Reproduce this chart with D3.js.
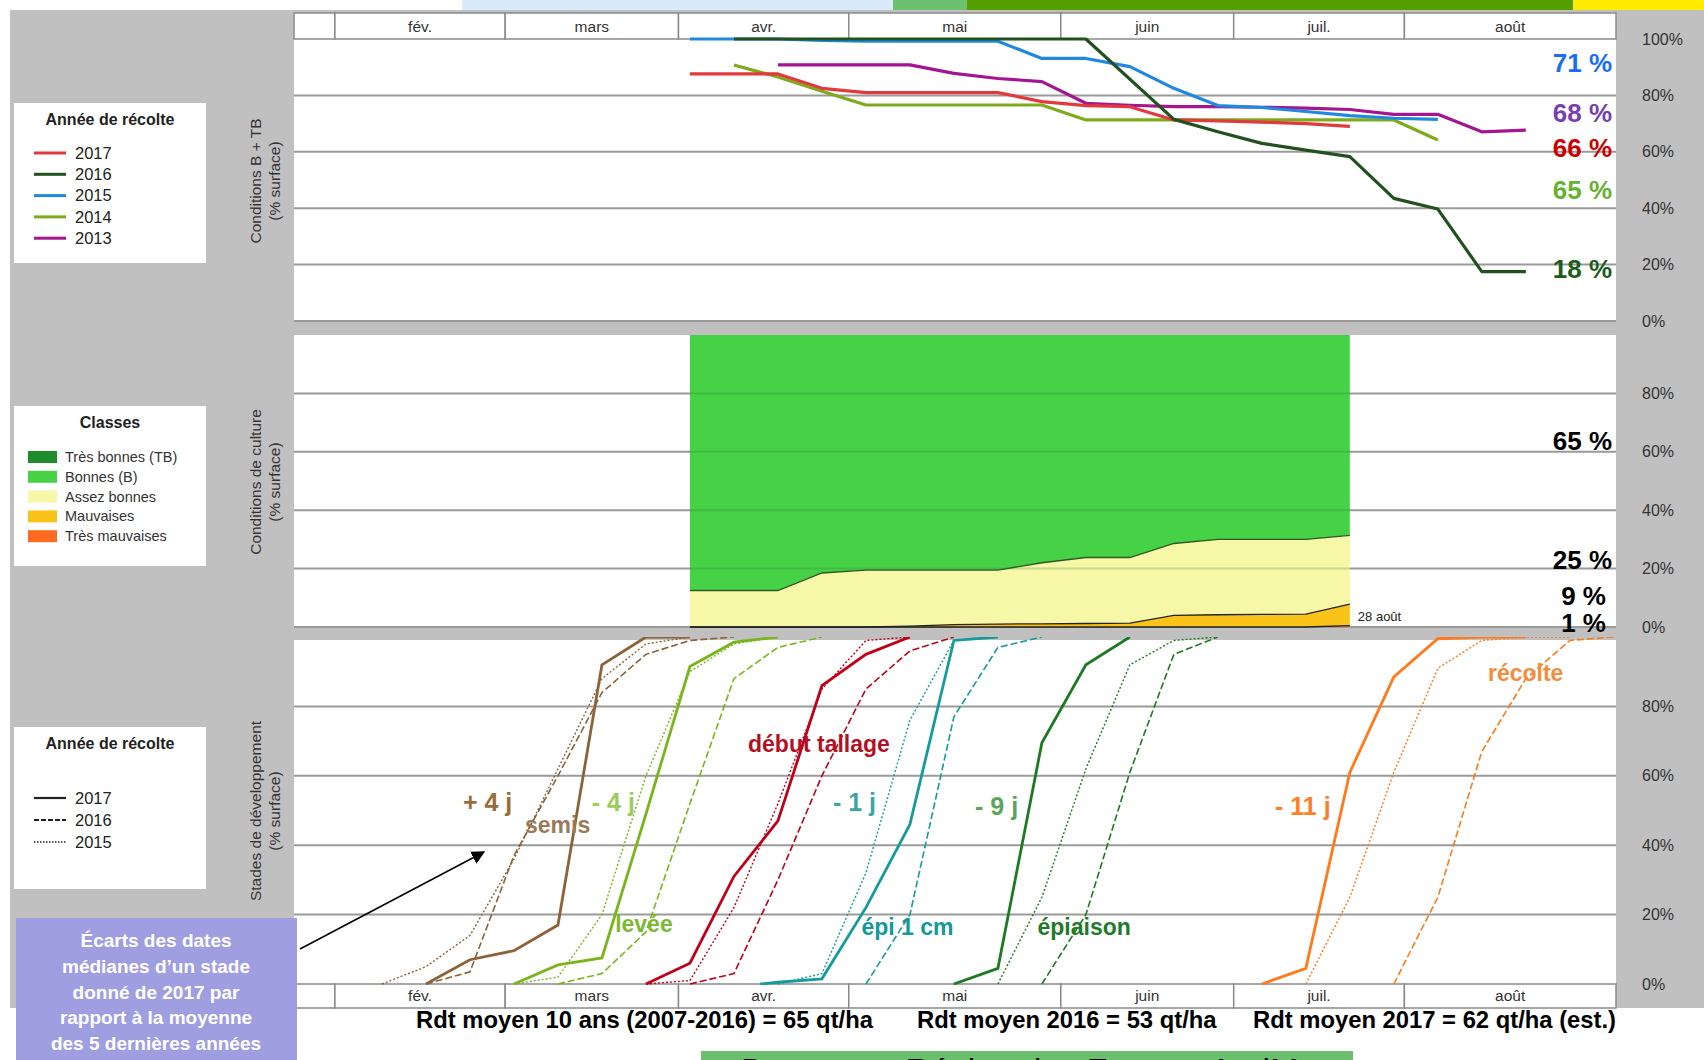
<!DOCTYPE html>
<html>
  <head>
    <meta charset="utf-8">
    <title>Conditions de culture et stades</title>
    <script src="https://d3js.org/d3.v7.min.js"></script>
    <style>
      body { margin: 0; background: #fff; }
      svg { display: block; font-family: "Liberation Sans", Arial, sans-serif; }
    </style>
  </head>

  <body>
    <svg id="canvas" width="1704" height="1060"></svg>
    <script>
      // x axis: weeks of observation (0 = first 2017 survey)
      const months = ["", "fév.", "mars", "avr.", "mai", "juin", "juil.", "août"];
      const monthEdges = [-9, -8.07, -4.2, -0.26, 3.61, 8.43, 12.36, 16.24, 21.05];
      const pctTicks = [0, 20, 40, 60, 80, 100];

      // panel 1 : conditions B + TB (% surface), [week, value]
      const bt2017 = [[0, 87.6], [1, 87.6], [2, 87.6], [3, 82.5], [4, 81], [5, 81], [6, 81], [7, 81], [8, 77.8], [9, 76.4], [10, 76], [11, 71.3], [12, 71], [13, 70.5], [14, 70], [15, 69]];
      const bt2016 = [[1, 100], [2, 100], [3, 100], [4, 100], [5, 100], [6, 100], [7, 100], [8, 100], [9, 100], [11, 71.5], [12, 67.1], [13, 63], [14, 60.6], [15, 58.3], [16, 43.5], [17, 39.7], [18, 17.5], [19, 17.5]];
      const bt2015 = [[0, 100], [1, 100], [2, 100], [3, 99.5], [4, 99.2], [5, 99.2], [6, 99.2], [7, 99.2], [8, 93.1], [9, 93.1], [10, 90.2], [11, 82.5], [12, 76.4], [13, 75.7], [14, 74.3], [15, 72.8], [16, 71.9], [17, 71.5]];
      const bt2014 = [[1, 90.8], [2, 86.5], [3, 81.5], [4, 76.6], [5, 76.6], [6, 76.6], [7, 76.6], [8, 76.6], [9, 71.3], [10, 71.3], [11, 71.3], [12, 71.3], [13, 71.3], [14, 71.3], [15, 71.3], [16, 71.3], [17, 64.2]];
      const bt2013 = [[2, 90.8], [3, 90.8], [4, 90.8], [5, 90.8], [6, 87.8], [7, 86], [8, 84.9], [9, 77.2], [10, 76.5], [11, 76], [12, 76], [13, 75.8], [14, 75.5], [15, 75], [16, 73.3], [17, 73.3], [18, 67.1], [19, 67.7]];
      const btLabels = ["71 %", "68 %", "66 %", "65 %", "18 %"];

      // panel 2 : conditions de culture 2017 (% surface)
      const condWeeks = [0, 1, 2, 3, 4, 5, 6, 7, 8, 9, 10, 11, 12, 13, 14, 15];
      const tresBonnes = [0, 0, 0, 0, 0, 0, 0, 0, 0, 0, 0, 0, 0, 0, 0, 0];
      const bonnes = [87.5, 87.5, 87.5, 81.5, 80.5, 80.5, 80.5, 80.5, 78, 76.2, 76.2, 71.4, 70, 70, 70, 68.6];
      const assezBonnes = [12.5, 12.5, 12.5, 18.5, 19.5, 19.2, 18.7, 18.5, 20.9, 22.6, 22.5, 24.6, 25.8, 25.7, 25.6, 23.6];
      const mauvaises = [0, 0, 0, 0, 0, 0.3, 0.8, 1, 1.1, 1.2, 1.3, 4, 4.2, 4.3, 4.4, 7.3];
      const tresMauvaises = [0, 0, 0, 0, 0, 0, 0, 0, 0, 0, 0, 0, 0, 0, 0, 0.5];
      const classNames = ["Très bonnes (TB)", "Bonnes (B)", "Assez bonnes", "Mauvaises", "Très mauvaises"];
      const condLabels = ["65 %", "25 %", "9 %", "1 %"];

      // panel 3 : stades de développement (% surface), [week, value]
      const semis2017 = [[-6, 0], [-5, 7], [-4, 9.6], [-3, 17], [-2, 92], [-1, 100], [0, 100]];
      const semis2016 = [[-6, 0], [-5, 3.5], [-4, 37], [-3, 60], [-2, 84], [-1, 95], [0, 99], [1, 100]];
      const semis2015 = [[-7, 0], [-6, 5], [-5, 14], [-4, 36], [-3, 62], [-2, 88], [-1, 98], [0, 100]];
      const levee2017 = [[-4, 0], [-3, 5.5], [-2, 7.5], [-1, 49], [0, 91.5], [1, 98.5], [2, 100]];
      const levee2016 = [[-3, 0], [-2, 3], [-1, 15], [0, 52], [1, 88], [2, 97], [3, 100]];
      const levee2015 = [[-4, 0], [-3, 2], [-2, 20], [-1, 60], [0, 90], [1, 98], [2, 100]];
      const tallage2017 = [[-1, 0], [0, 6], [1, 31], [2, 47], [3, 86], [4, 95], [5, 100]];
      const tallage2016 = [[0, 0], [1, 3], [2, 30], [3, 60], [4, 85], [5, 96], [6, 100]];
      const tallage2015 = [[-1, 0], [0, 1], [1, 22], [2, 52], [3, 85], [4, 99], [5, 100]];
      const epi2017 = [[1.6, 0], [2, 0.5], [3, 1.5], [4, 22], [5, 46], [6, 99], [7, 100]];
      const epi2016 = [[4, 0], [5, 20], [6, 77], [7, 97], [8, 100]];
      const epi2015 = [[2, 0], [3, 3], [4, 32], [5, 76], [6, 99], [7, 100]];
      const epiaison2017 = [[6, 0], [7, 4.5], [8, 69.5], [9, 92], [10, 100]];
      const epiaison2016 = [[8, 0], [9, 20], [10, 61], [11, 95], [12, 100]];
      const epiaison2015 = [[7, 0], [8, 25], [9, 62], [10, 92], [11, 99], [12, 100]];
      const recolte2017 = [[13, 0], [14, 4.5], [15, 61], [16, 88.5], [17, 99.5], [18, 100], [19, 100]];
      const recolte2016 = [[16, 0], [17, 25], [18, 67], [19, 88], [20, 99], [21, 100]];
      const recolte2015 = [[14, 0], [15, 25], [16, 61], [17, 91], [18, 99], [19, 100], [20, 100]];
      const stageNames = ["semis", "levée", "début tallage", "épi 1 cm", "épiaison", "récolte"];
      const stageGaps = ["+ 4 j", "- 4 j", "", "- 1 j", "- 9 j", "- 11 j"];

      const yields = ["Rdt moyen 10 ans (2007-2016) = 65 qt/ha", "Rdt moyen 2016 = 53 qt/ha", "Rdt moyen 2017 = 62 qt/ha (est.)"];
      const noteLines = ["Écarts des dates", "médianes d’un stade", "donné de 2017 par", "rapport à la moyenne", "des 5 dernières années"];

      // scales
      const left = 294, right = 1616;
      const x = d3.scaleLinear().domain([monthEdges[0], monthEdges[8]]).range([left, right]);
      const yTop = d3.scaleLinear().domain([0, 100]).range([321, 39]);
      const yMid = d3.scaleLinear().domain([0, 100]).range([627, 335]);
      const yBot = d3.scaleLinear().domain([0, 100]).range([984, 637]);

      const canvas = d3.select("#canvas");

      canvas.append("defs").append("marker")
          .attr("id", "arrow")
          .attr("viewBox", "0 0 10 10")
          .attr("refX", 9).attr("refY", 5)
          .attr("markerWidth", 9).attr("markerHeight", 9)
          .attr("orient", "auto")
        .append("path")
          .attr("d", "M0,0 L10,5 L0,10 z")
          .attr("fill", "#000");

      // banner strip at the very top
      const strip = [[462, 893, "#dbeaf9"], [893, 967, "#6cc070"], [967, 1573, "#55a000"], [1573, 1704, "#ffea00"]];
      canvas.selectAll(".strip")
          .data(strip)
        .enter().append("rect")
          .attr("x", d => d[0]).attr("y", 0)
          .attr("width", d => d[1] - d[0]).attr("height", 10)
          .attr("fill", d => d[2]);

      canvas.append("rect")
          .attr("x", 10).attr("y", 10)
          .attr("width", 1694).attr("height", 998)
          .attr("fill", "#c0c0c0");

      // panel backgrounds
      [[39, 321], [335, 627], [640, 984]].forEach(function(p) {
        canvas.append("rect")
            .attr("x", left).attr("y", p[0])
            .attr("width", right - left).attr("height", p[1] - p[0])
            .attr("fill", "#fff");
      });

      function grid(scale, ticks) {
        canvas.append("g")
          .selectAll("line")
            .data(ticks)
          .enter().append("line")
            .attr("x1", left).attr("x2", right)
            .attr("y1", d => scale(d)).attr("y2", d => scale(d))
            .attr("stroke", "#9a9a9a")
            .attr("stroke-width", 2);
      }

      function rightAxis(scale, ticks) {
        canvas.append("g")
          .selectAll("text")
            .data(ticks)
          .enter().append("text")
            .attr("x", 1642)
            .attr("y", d => scale(d))
            .attr("dy", "0.35em")
            .attr("font-size", 16)
            .attr("fill", "#333")
            .text(d => d + "%");
      }

      function monthHeader(y0, y1) {
        let g = canvas.append("g");
        g.selectAll("rect")
            .data(months)
          .enter().append("rect")
            .attr("x", (d, i) => x(monthEdges[i]))
            .attr("y", y0)
            .attr("width", (d, i) => x(monthEdges[i + 1]) - x(monthEdges[i]))
            .attr("height", y1 - y0)
            .attr("fill", "#fff")
            .attr("stroke", "#8a8a8a")
            .attr("stroke-width", 1.5);
        g.selectAll("text")
            .data(months)
          .enter().append("text")
            .attr("x", (d, i) => (x(monthEdges[i]) + x(monthEdges[i + 1])) / 2)
            .attr("y", y1 - 7)
            .attr("text-anchor", "middle")
            .attr("font-size", 15.5)
            .attr("fill", "#333")
            .text(d => d);
      }

      function axisTitle(lines, cy) {
        let t = canvas.append("text")
            .attr("transform", "translate(261," + cy + ") rotate(-90)")
            .attr("text-anchor", "middle")
            .attr("font-size", 15.5)
            .attr("fill", "#333");
        lines.forEach(function(l, i) {
          t.append("tspan").attr("x", 0).attr("dy", i == 0 ? 0 : 19).text(l);
        });
      }

      // ---- panel 1
      grid(yTop, [0, 20, 40, 60, 80]);
      rightAxis(yTop, pctTicks);
      monthHeader(13, 39);
      axisTitle(["Conditions B + TB", "(% surface)"], 181);

      const topSeries = [
        {data: bt2013, color: "#a3168f"},
        {data: bt2014, color: "#7dab1c"},
        {data: bt2017, color: "#e0393e"},
        {data: bt2015, color: "#1f88e0"},
        {data: bt2016, color: "#22501f"}
      ];
      const lineTop = d3.line().x(d => x(d[0])).y(d => yTop(d[1]));
      canvas.append("g")
        .selectAll("path")
          .data(topSeries)
        .enter().append("path")
          .attr("d", d => lineTop(d.data))
          .attr("fill", "none")
          .attr("stroke", d => d.color)
          .attr("stroke-width", 3.2)
          .attr("stroke-linejoin", "round");

      const btLabelPos = [88.3, 70.6, 58.2, 43.3, 15.2];
      const btLabelCol = ["#1a6ef5", "#7a3fae", "#cc0000", "#66b032", "#1e5c1e"];
      canvas.append("g")
        .selectAll("text")
          .data(btLabels)
        .enter().append("text")
          .attr("x", 1612)
          .attr("y", (d, i) => yTop(btLabelPos[i]))
          .attr("text-anchor", "end")
          .attr("font-size", 26)
          .attr("font-weight", "bold")
          .attr("fill", (d, i) => btLabelCol[i])
          .text(d => d);

      // ---- panel 2
      grid(yMid, [0, 20, 40, 60, 80]);
      rightAxis(yMid, [0, 20, 40, 60, 80]);
      axisTitle(["Conditions de culture", "(% surface)"], 482);

      const keys = ["TM", "M", "AB", "B", "TB"];
      const classColor = {TB: "#1f8c2a", B: "#47d147", AB: "#f7f7a8", M: "#f9c31a", TM: "#ff6a1e"};
      const rows = condWeeks.map((w, i) => ({week: w, TB: tresBonnes[i], B: bonnes[i], AB: assezBonnes[i], M: mauvaises[i], TM: tresMauvaises[i]}));
      const stacked = d3.stack().keys(keys)(rows);
      const area = d3.area()
        .x(d => x(d.data.week))
        .y0(d => yMid(d[0]))
        .y1(d => yMid(d[1]));
      canvas.append("g")
        .selectAll("path")
          .data(stacked)
        .enter().append("path")
          .attr("d", area)
          .attr("fill", d => classColor[d.key]);
      canvas.append("g")
        .selectAll("path")
          .data(stacked.filter(d => d.key != "B" && d.key != "TB"))
        .enter().append("path")
          .attr("d", d3.line().x(d => x(d.data.week)).y(d => yMid(d[1])))
          .attr("fill", "none")
          .attr("stroke", d => d.key == "AB" ? "#2b5a22" : "#222")
          .attr("stroke-width", 1.3);
      // grid seen through the areas
      canvas.append("g")
        .selectAll("line")
          .data([20, 40, 60, 80])
        .enter().append("line")
          .attr("x1", x(condWeeks[0])).attr("x2", x(condWeeks[condWeeks.length - 1]))
          .attr("y1", d => yMid(d)).attr("y2", d => yMid(d))
          .attr("stroke", "#2f7a2f")
          .attr("stroke-opacity", 0.25)
          .attr("stroke-width", 2);

      canvas.append("text")
          .attr("x", x(condWeeks[condWeeks.length - 1]) + 8)
          .attr("y", 621)
          .attr("font-size", 13)
          .attr("fill", "#222")
          .text("28 août");

      const condLabelPos = [[1612, 60.5], [1612, 19.7], [1606, 7.5], [1606, -1.7]];
      canvas.append("g")
        .selectAll("text")
          .data(condLabels)
        .enter().append("text")
          .attr("x", (d, i) => condLabelPos[i][0])
          .attr("y", (d, i) => yMid(condLabelPos[i][1]))
          .attr("text-anchor", "end")
          .attr("font-size", 26)
          .attr("font-weight", "bold")
          .attr("fill", "#000")
          .text(d => d);

      // ---- panel 3
      grid(yBot, [20, 40, 60, 80]);
      rightAxis(yBot, [0, 20, 40, 60, 80]);
      monthHeader(984, 1008);
      axisTitle(["Stades de développement", "(% surface)"], 811);

      canvas.append("clipPath").attr("id", "clipBot")
        .append("rect")
          .attr("x", left).attr("y", 637)
          .attr("width", right - left).attr("height", 348);

      const stages = [
        {color: "#8c6239", y17: semis2017, y16: semis2016, y15: semis2015},
        {color: "#7ab51d", y17: levee2017, y16: levee2016, y15: levee2015},
        {color: "#c00018", y17: tallage2017, y16: tallage2016, y15: tallage2015},
        {color: "#169b9b", y17: epi2017, y16: epi2016, y15: epi2015},
        {color: "#1d7a22", y17: epiaison2017, y16: epiaison2016, y15: epiaison2015},
        {color: "#ff7a1a", y17: recolte2017, y16: recolte2016, y15: recolte2015}
      ];
      const yearStyle = [
        {key: "y15", width: 1.4, dash: "2,2"},
        {key: "y16", width: 1.6, dash: "7,3"},
        {key: "y17", width: 2.8, dash: null}
      ];
      const lineBot = d3.line().x(d => x(d[0])).y(d => yBot(d[1]));
      const curves = canvas.append("g").attr("clip-path", "url(#clipBot)");
      yearStyle.forEach(function(s) {
        curves.append("g")
          .selectAll("path")
            .data(stages)
          .enter().append("path")
            .attr("d", d => lineBot(d[s.key]))
            .attr("fill", "none")
            .attr("stroke", d => d.color)
            .attr("stroke-width", s.width)
            .attr("stroke-dasharray", s.dash);
      });

      // stage names and median gaps
      const nameCol = ["#9a7a5a", "#7db833", "#b30f25", "#14999a", "#1f7a2a", "#f58b3c"];
      const namePos = [[-3.75, 43.5], [-1.7, 15], [1.32, 66.9], [3.9, 14.1], [7.9, 14.1], [18.14, 87.3]];
      const gapCol = ["#9a6c3c", "#9ccc5a", "", "#3da5a5", "#5aa55a", "#ff7f27"];
      const gapPos = [[-5.16, 49.9], [-2.23, 49.9], [0, 0], [3.25, 49.9], [6.48, 48.7], [13.3, 48.7]];
      canvas.append("g")
        .selectAll("text")
          .data(stageNames)
        .enter().append("text")
          .attr("x", (d, i) => x(namePos[i][0]))
          .attr("y", (d, i) => yBot(namePos[i][1]))
          .attr("font-size", 23)
          .attr("font-weight", "bold")
          .attr("fill", (d, i) => nameCol[i])
          .text(d => d);
      canvas.append("g")
        .selectAll("text")
          .data(stageGaps)
        .enter().append("text")
          .attr("x", (d, i) => x(gapPos[i][0]))
          .attr("y", (d, i) => yBot(gapPos[i][1]))
          .attr("font-size", 25)
          .attr("font-weight", "bold")
          .attr("fill", (d, i) => gapCol[i])
          .text(d => d);

      // ---- legends
      function legendBox(y0, y1, title) {
        canvas.append("rect")
            .attr("x", 14).attr("y", y0)
            .attr("width", 192).attr("height", y1 - y0)
            .attr("fill", "#fff");
        canvas.append("text")
            .attr("x", 110).attr("y", y0 + 22)
            .attr("text-anchor", "middle")
            .attr("font-size", 16)
            .attr("font-weight", "bold")
            .attr("fill", "#222")
            .text(title);
      }

      legendBox(103, 263, "Année de récolte");
      const legYears = [["2017", "#e0393e"], ["2016", "#22501f"], ["2015", "#1f88e0"], ["2014", "#7dab1c"], ["2013", "#a3168f"]];
      legYears.forEach(function(d, i) {
        let y = 153 + i * 21.3;
        canvas.append("line")
            .attr("x1", 34).attr("x2", 66).attr("y1", y).attr("y2", y)
            .attr("stroke", d[1]).attr("stroke-width", 3);
        canvas.append("text")
            .attr("x", 75).attr("y", y).attr("dy", "0.35em")
            .attr("font-size", 16.5).attr("fill", "#222")
            .text(d[0]);
      });

      legendBox(406, 566, "Classes");
      ["TB", "B", "AB", "M", "TM"].forEach(function(k, i) {
        let y = 457 + i * 19.8;
        canvas.append("rect")
            .attr("x", 28).attr("y", y - 6)
            .attr("width", 29).attr("height", 12)
            .attr("fill", classColor[k]);
        canvas.append("text")
            .attr("x", 65).attr("y", y).attr("dy", "0.35em")
            .attr("font-size", 14.5).attr("fill", "#333")
            .text(classNames[i]);
      });

      legendBox(727, 889, "Année de récolte");
      [["2017", null, 2.2], ["2016", "5,2", 2], ["2015", "1.5,1.5", 1.6]].forEach(function(d, i) {
        let y = 798 + i * 22;
        canvas.append("line")
            .attr("x1", 34).attr("x2", 66).attr("y1", y).attr("y2", y)
            .attr("stroke", "#222").attr("stroke-width", d[2])
            .attr("stroke-dasharray", d[1]);
        canvas.append("text")
            .attr("x", 75).attr("y", y).attr("dy", "0.35em")
            .attr("font-size", 16.5).attr("fill", "#222")
            .text(d[0]);
      });

      // ---- note box and arrow
      canvas.append("rect")
          .attr("x", 16).attr("y", 918)
          .attr("width", 281).attr("height", 142)
          .attr("fill", "#9e9ee0");
      canvas.append("g")
        .selectAll("text")
          .data(noteLines)
        .enter().append("text")
          .attr("x", 156)
          .attr("y", (d, i) => 947 + i * 25.8)
          .attr("text-anchor", "middle")
          .attr("font-size", 19)
          .attr("font-weight", "bold")
          .attr("fill", "#fff")
          .text(d => d);
      canvas.append("line")
          .attr("x1", 300).attr("y1", 949)
          .attr("x2", 484).attr("y2", 852)
          .attr("stroke", "#000")
          .attr("stroke-width", 1.5)
          .attr("marker-end", "url(#arrow)");

      // ---- yields
      const yieldX = [416, 917, 1253];
      canvas.append("g")
        .selectAll("text")
          .data(yields)
        .enter().append("text")
          .attr("x", (d, i) => yieldX[i])
          .attr("y", 1028)
          .attr("font-size", 23.8)
          .attr("font-weight", "bold")
          .attr("fill", "#000")
          .text(d => d);

      // footer band, cut by the frame
      canvas.append("rect")
          .attr("x", 701).attr("y", 1051)
          .attr("width", 652).attr("height", 9)
          .attr("fill", "#6cbf6c");
      canvas.append("text")
          .attr("x", 741).attr("y", 1082)
          .attr("font-size", 34)
          .attr("fill", "#000")
          .text("Document Région des Fermes AgriMer");
    </script>
  </body>
</html>
